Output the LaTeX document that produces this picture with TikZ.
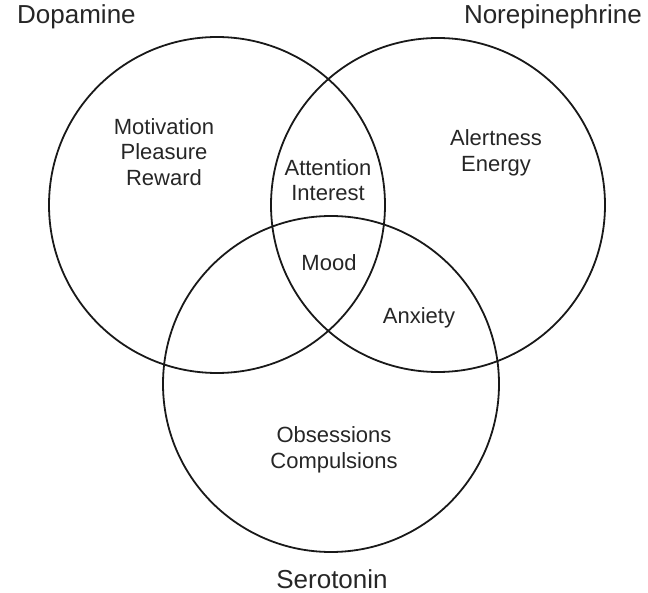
\documentclass[tikz,border=0pt]{standalone}
\usepackage{fontspec}
\setmainfont{Liberation Sans}
\begin{document}
\begin{tikzpicture}[x=1pt,y=-1pt,
  ring/.style={draw=black!90, line width=1.8pt},
  title/.style={font=\fontsize{26}{30}\selectfont, text=black!85, inner sep=0pt},
  region/.style={font=\fontsize{22}{25.5}\selectfont, text=black!85, align=center, inner sep=0pt}]
\useasboundingbox (0,0) rectangle (648,593);
\node[ring, circle, minimum size=336pt, inner sep=0pt] (dop) at (217,205) {};
\node[ring, circle, minimum size=334pt, inner sep=0pt] (nor) at (438,205) {};
\node[ring, circle, minimum size=336pt, inner sep=0pt] (ser) at (331,384) {};
\node[title, anchor=west] (tdop) at (17,17) {Dopamine};
\node[title, anchor=east] (tnor) at (642,17) {Norepinephrine};
\node[title] (tser) at (332,579) {Serotonin};
\node[region] (mot) at (164,152) {Motivation\\Pleasure\\Reward};
\node[region] (att) at (328,180) {Attention\\Interest};
\node[region] (ale) at (496,153) {Alertness\\Energy};
\node[region] (mood) at (329,263) {Mood};
\node[region] (anx) at (419,318) {Anxiety};
\node[region] (obs) at (334,450) {Obsessions\\Compulsions};
\end{tikzpicture}
\end{document}
